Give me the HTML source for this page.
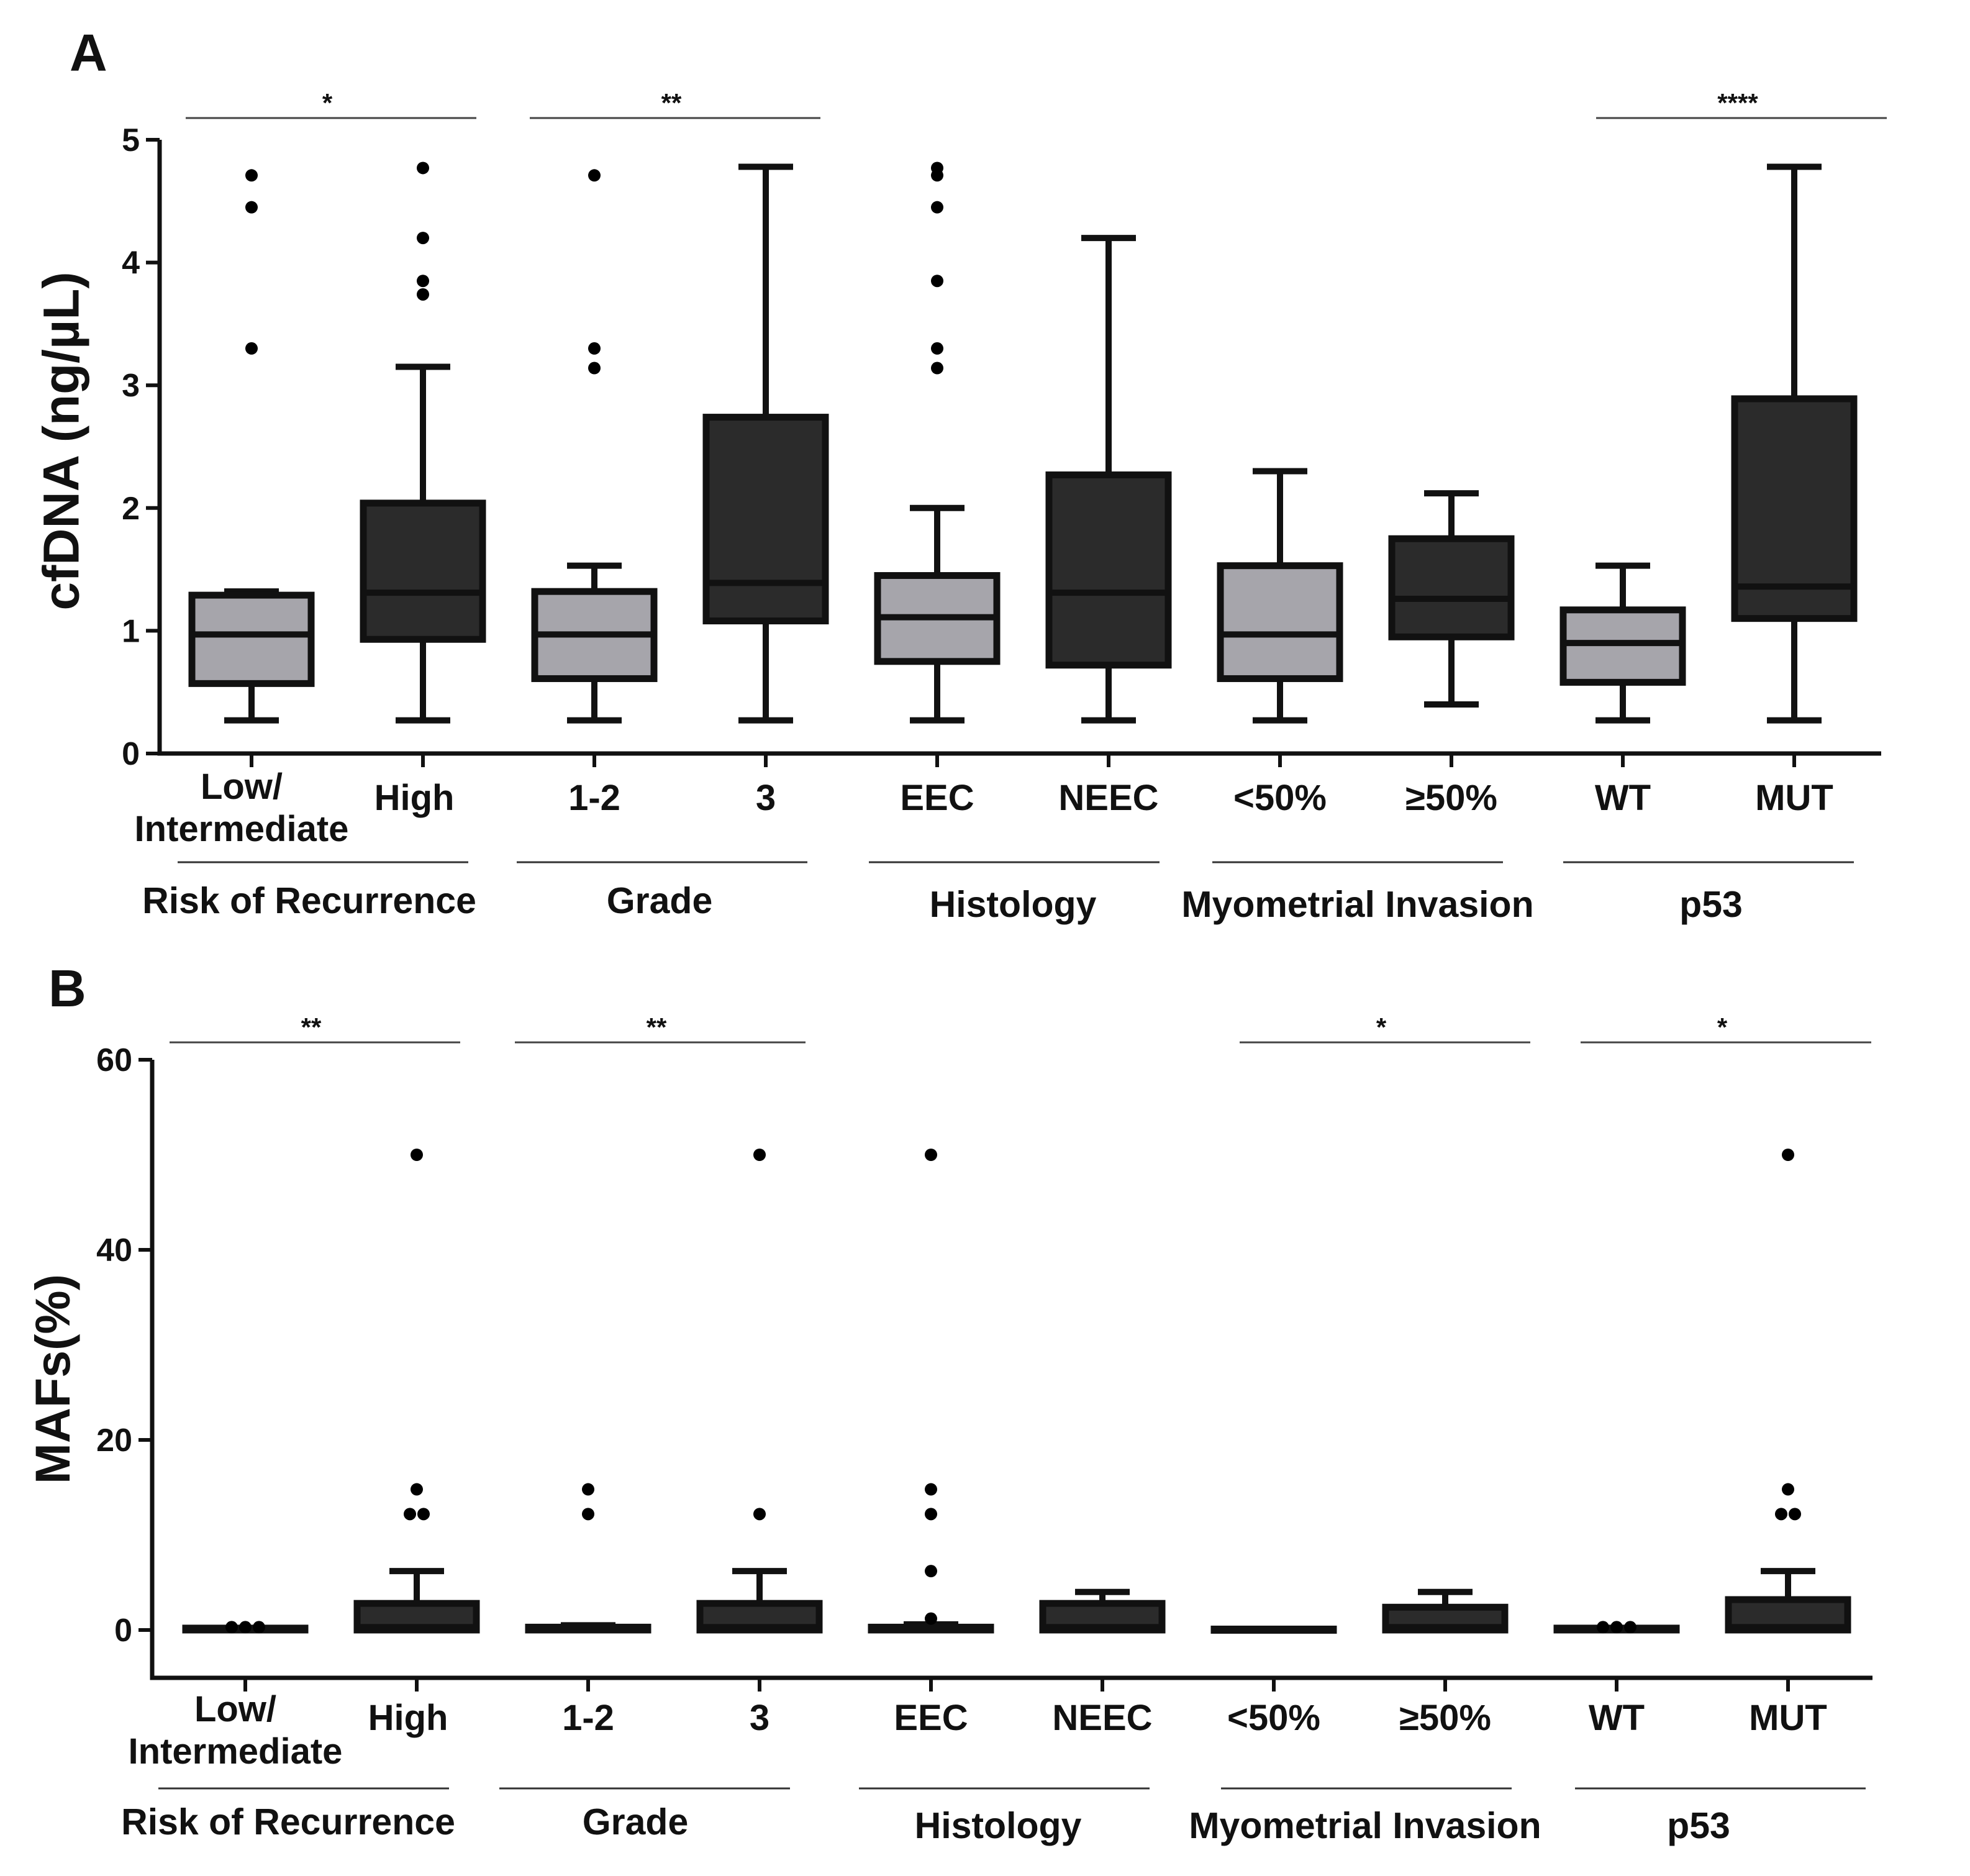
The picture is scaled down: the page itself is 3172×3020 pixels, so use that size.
<!DOCTYPE html>
<html><head><meta charset="utf-8"><style>
html,body{margin:0;padding:0;background:#fff}
svg{display:block}
text{font-family:"Liberation Sans",Arial,sans-serif;font-weight:bold;fill:#111}
</style></head><body>
<svg id="fig" width="3172" height="3020" viewBox="0 0 3172 3020" xmlns="http://www.w3.org/2000/svg">
<text x="112" y="114" font-size="84">A</text>
<text x="78" y="1620" font-size="84">B</text>
<text transform="translate(105,710) rotate(-90)" text-anchor="middle" font-size="82" dominant-baseline="middle">cfDNA (ng/µL)</text>
<text transform="translate(91,2220) rotate(-90)" text-anchor="middle" font-size="79" dominant-baseline="middle">MAFs(%)</text>
<g id="ga"></g><g id="gb"></g>
</svg>
<script>
const categories=["Low/|Intermediate","High","1-2","3","EEC","NEEC","<50%","≥50%","WT","MUT"];
const fills=["light","dark","light","dark","light","dark","light","dark","light","dark"];
const groupNames=["Risk of Recurrence","Grade","Histology","Myometrial Invasion","p53"];
// Panel A values
const aQ1=[0.57,0.93,0.61,1.08,0.75,0.72,0.61,0.95,0.58,1.10];
const aMed=[0.97,1.31,0.97,1.39,1.11,1.31,0.97,1.26,0.90,1.36];
const aQ3=[1.29,2.04,1.32,2.74,1.45,2.27,1.53,1.75,1.17,2.89];
const aLo=[0.27,0.27,0.27,0.27,0.27,0.27,0.27,0.40,0.27,0.27];
const aHi=[1.32,3.15,1.53,4.78,2.00,4.20,2.30,2.12,1.53,4.78];
const aOut=[[4.71,4.45,3.30],[4.77,4.20,3.74,3.85],[4.71,3.30,3.14],[],[4.71,4.77,4.45,3.85,3.30,3.14],[],[],[],[],[]];
const aTicks=[0,1,2,3,4,5];
const aSig=["*","**",null,null,"****"];
// Panel B values
const bQ1=[0,0,0,0,0,0,0,0,0,0];
const bMed=[0,0.3,0,0.3,0,0.3,0,0.3,0,0.3];
const bQ3=[0.2,2.8,0.3,2.8,0.3,2.8,0.1,2.4,0.2,3.2];
const bLo=[0,0,0,0,0,0,0,0,0,0];
const bHi=[0.2,6.2,0.5,6.2,0.6,4.0,0.1,4.0,0.2,6.2];
const bOut=[[0.3,0.3,0.3],[50,14.8,12.2,12.2],[14.8,12.2],[50,12.2],[50,14.8,12.2,6.2,1.2],[],[],[],[0.3,0.3,0.3],[50,14.8,12.2,12.2]];
const bTicks=[0,20,40,60];
const bSig=["**","**",null,"*","*"];

const NS="http://www.w3.org/2000/svg";
function mk(p,t,a){const e=document.createElementNS(NS,t);for(const k in a)e.setAttribute(k,a[k]);p.appendChild(e);return e;}

function panel(g,cfg){
  const y=v=>cfg.y0-(v-cfg.vmin)/(cfg.vmax-cfg.vmin)*(cfg.y0-cfg.yTop);
  const x=i=>cfg.x0+i*cfg.step;
  const ax=mk(g,'path',{d:`M${cfg.axX},${y(cfg.vmax)} V${cfg.axBottom} H${cfg.axEnd}`,fill:'none',stroke:'#111','stroke-width':7});
  
  cfg.ticks.forEach(t=>{
    const l=mk(g,'line',{x1:cfg.axX-22,x2:cfg.axX,y1:y(t),y2:y(t),stroke:'#111','stroke-width':6});
    
    const tx=mk(g,'text',{x:cfg.axX-32,y:y(t)+18,'text-anchor':'end','font-size':52});
    tx.textContent=t;
  });
  categories.forEach((c,i)=>{
    const cx=x(i),w=192,cap=88;
    const tk=mk(g,'line',{x1:cx,x2:cx,y1:cfg.axBottom,y2:cfg.axBottom+22,stroke:'#111','stroke-width':6});
    
    const wk=mk(g,'path',{d:`M${cx-cap/2},${y(cfg.lo[i])}H${cx+cap/2}M${cx},${y(cfg.lo[i])}V${y(cfg.hi[i])}M${cx-cap/2},${y(cfg.hi[i])}H${cx+cap/2}`,stroke:'#111','stroke-width':10,fill:'none'});
    
    const bh=Math.max(y(cfg.q1[i])-y(cfg.q3[i]),2);
    const bx=mk(g,'rect',{x:cx-w/2,y:y(cfg.q3[i]),width:w,height:bh,fill:fills[i]=='light'?'#a6a5ab':'#2b2b2b',stroke:'#111','stroke-width':11});
    
    const md=mk(g,'line',{x1:cx-w/2,x2:cx+w/2,y1:y(cfg.med[i]),y2:y(cfg.med[i]),stroke:'#111','stroke-width':10});
    
    const outs=cfg.out[i];const seen={};
    outs.forEach(v=>{
      const k=v.toFixed(2);seen[k]=(seen[k]||0)+1;
      const n=outs.filter(u=>u.toFixed(2)==k).length;
      const off=(seen[k]-1-(n-1)/2)*22;
      const d=mk(g,'circle',{cx:cx+off,cy:y(v),r:10,fill:'#000'});
      
    });
    const parts=c.split('|');
    if(parts.length>1){
      const t=mk(g,'text',{x:cx-16,y:cfg.lowY,'text-anchor':'middle','font-size':58});t.textContent=parts[0];
      
      const t2=mk(g,'text',{x:cx-16,y:cfg.lowY+68,'text-anchor':'middle','font-size':58});t2.textContent=parts[1];
      
    } else {
      const t=mk(g,'text',{x:cx-(c=='High'?14:0),y:cfg.catY,'text-anchor':'middle','font-size':58});
      t.textContent=c;
    }
  });
  groupNames.forEach((n,j)=>{
    const gx=(x(2*j)+x(2*j+1))/2;
    const lc=gx+cfg.lineOff[j];
    const l=mk(g,'line',{x1:lc-234,x2:lc+234,y1:cfg.grpLineY,y2:cfg.grpLineY,stroke:'#333','stroke-width':3});
    
    const t=mk(g,'text',{x:gx+cfg.labOff[j],y:cfg.grpY+(j>=2?6:0),'text-anchor':'middle','font-size':59});
    t.textContent=n;
    if(cfg.sig[j]){
      const sx=gx+cfg.sigOff[j];
      const sl=mk(g,'line',{x1:sx-234,x2:sx+234,y1:cfg.sigY,y2:cfg.sigY,stroke:'#444','stroke-width':3});
      
      const st=mk(g,'text',{x:sx-6,y:cfg.sigY-10,'text-anchor':'middle','font-size':42,'font-weight':'normal'});
      st.textContent=cfg.sig[j];
    }
  });
}
panel(document.getElementById('ga'),{vmin:0,vmax:5,y0:1213,yTop:225,axX:257,axBottom:1213,axEnd:3029,x0:405,step:276,ticks:aTicks,
  q1:aQ1,med:aMed,q3:aQ3,lo:aLo,hi:aHi,out:aOut,sig:aSig,catY:1304,lowY:1286,grpLineY:1388,grpY:1470,sigY:190,
  lineOff:[-23,-29,-14,-13,0],labOff:[-45,-33,-16,-13,4],sigOff:[-10,-8,0,0,53]});
panel(document.getElementById('gb'),{vmin:0,vmax:60,y0:2624,yTop:1706,axX:245,axBottom:2701,axEnd:3015,x0:395,step:276,ticks:bTicks,
  q1:bQ1,med:bMed,q3:bQ3,lo:bLo,hi:bHi,out:bOut,sig:bSig,catY:2785,lowY:2771,grpLineY:2879,grpY:2953,sigY:1678,
  lineOff:[-44,-47,-20,11,29],labOff:[-69,-62,-30,9,-6],sigOff:[-26,-22,0,41,38]});
</script>
</body></html>
